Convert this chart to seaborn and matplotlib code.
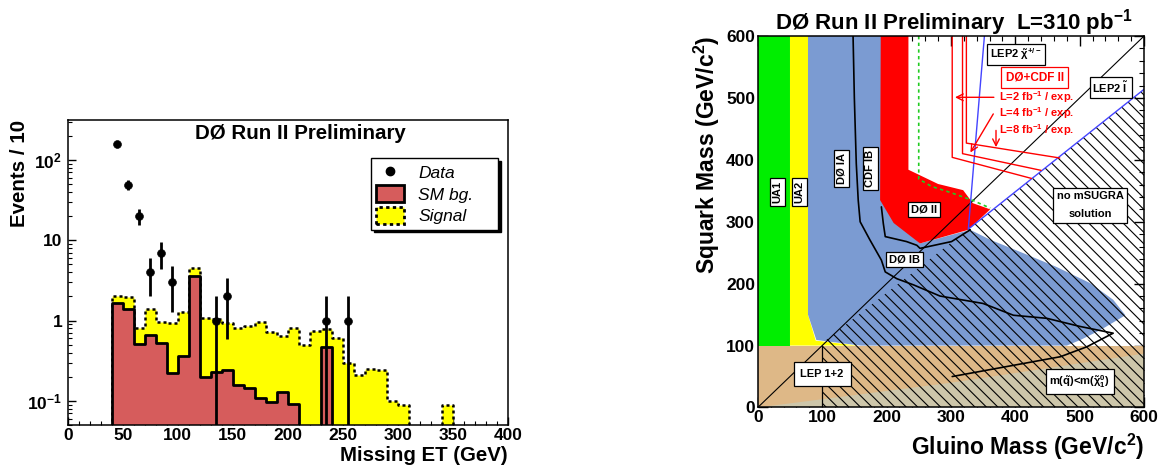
import numpy as np
import pandas as pd
import seaborn as sns
import matplotlib.pyplot as plt
from matplotlib.patches import Patch, Polygon
from matplotlib.lines import Line2D
from matplotlib.ticker import MultipleLocator, FixedLocator, FixedFormatter, LogLocator, NullFormatter

# ---- left panel: missing ET, 10 GeV bins starting at 40 GeV
bin_lo = np.arange(40, 350, 10)
sm_bg = [1.67, 1.38, 0.51, 0.66, 0.53, 0.22, 0.36, 3.63, 0.197, 0.23, 0.24, 0.158, 0.144, 0.108, 0.096, 0.128,
         0.091, 0, 0, 0.47, 0, 0, 0, 0, 0, 0, 0, 0, 0, 0, 0]
signal = [0.36, 0.57, 0.29, 0.72, 0.44, 0.71, 0.93, 0.85, 0.89, 0.81, 0.69, 0.64, 0.70, 0.84, 0.63, 0.52,
          0.71, 0.49, 0.75, 0.32, 0.60, 0.30, 0.21, 0.25, 0.24, 0.10, 0.088, 0, 0, 0, 0.088]
data_x = [45, 55, 65, 75, 85, 95, 135, 145, 235, 255]
data_n = [157, 49, 20, 4, 7, 3, 1, 2, 1, 1]

# ---- right panel: squark / gluino exclusion regions
lep_x, lep_y = [0, 600, 600, 0], [0, 0, 100, 100]
lsp_x, lsp_y = [0, 300, 600, 600], [0, 40, 87, 0]
ua1_x, ua1_y = [0, 50, 50, 0], [100, 100, 600, 600]
ua2_x, ua2_y = [50, 155, 90, 78, 78, 50], [100, 100, 108, 150, 600, 600]
d0i_x = [78, 200, 200, 252, 330, 361, 413, 464, 516, 552, 571, 532, 501, 480, 160, 91, 78]
d0i_y = [600, 600, 330, 265, 287, 271, 249, 227, 201, 174, 149, 125, 109, 100, 100, 109, 150]
d0ii_x = [191, 234, 234, 280, 319, 334, 361, 327, 252, 211, 190]
d0ii_y = [600, 600, 384, 361, 351, 330, 320, 287, 265, 298, 335]
nosol_x, nosol_y = [100, 100, 327, 600, 600], [0, 104, 288, 514, 0]
chargino_x, chargino_y = [352, 327, 600], [600, 288, 514]
slepton_x, slepton_y = [0, 600], [0, 600]
lep12_x, lep12_y = [100, 100], [0, 100]
d0ia_x = [148, 150, 153, 156, 159, 174, 192, 198, 216, 242, 283, 350, 397, 449, 500, 552, 511, 470, 302]
d0ia_y = [600, 500, 394, 335, 300, 271, 238, 219, 208, 198, 180, 168, 149, 144, 131, 120, 98, 82, 50]
cdfib_x = [192, 195, 198, 231, 247, 252, 301, 330]
cdfib_y = [324, 297, 276, 268, 262, 257, 268, 287]
d0ii_exp_x = [250, 250, 270, 300, 335, 361]
d0ii_exp_y = [600, 369, 357, 347, 334, 322]
reach2_x, reach2_y = [302, 302, 425], [600, 404, 370]
reach4_x, reach4_y = [318, 318, 440], [600, 410, 383]
reach8_x, reach8_y = [324, 324, 469], [600, 427, 403]

sns.set_style("ticks")
plt.rcParams['font.family'] = ['Liberation Sans', 'DejaVu Sans']
plt.rcParams['font.weight'] = 'bold'
plt.rcParams['axes.labelweight'] = 'bold'
plt.rcParams['mathtext.default'] = 'regular'
plt.rcParams['axes.edgecolor'] = 'black'
plt.rcParams['axes.labelcolor'] = 'black'
plt.rcParams['text.color'] = 'black'
plt.rcParams['xtick.color'] = 'black'
plt.rcParams['ytick.color'] = 'black'

fig = plt.figure(figsize=(11.64, 4.70), dpi=100)
ax1 = fig.add_axes([0.0582, 0.0957, 0.3783, 0.649])
ax2 = fig.add_axes([0.651, 0.133, 0.3319, 0.7904])

# left: stacked histogram (signal on top of SM background)
edges = list(range(0, 410, 10))
centers = bin_lo + 5
total_df = pd.DataFrame({'met': np.concatenate([centers, centers]),
                         'w': np.concatenate([sm_bg, signal])})
bg_df = pd.DataFrame({'met': centers, 'w': sm_bg})
ax1.set_yscale('log')
sns.histplot(data=total_df, x='met', weights='w', bins=edges,
             element='step', fill=True, color='#ffff00', alpha=1, edgecolor='black',
             linestyle=(0, (1.2, 1.2)), linewidth=1.8, ax=ax1)
sns.histplot(data=bg_df, x='met', weights='w', bins=edges, element='step', fill=True, color='#d65c5c', alpha=1,
             edgecolor='black', linewidth=2, ax=ax1)
ax1.errorbar(data_x, data_n, yerr=np.sqrt(data_n), fmt='none', ecolor='black', elinewidth=2, capsize=0, zorder=4)
sns.scatterplot(x=data_x, y=data_n, color='black', s=32, edgecolor='black', zorder=5, ax=ax1, legend=False)

ax1.set_xlim(0, 400)
ax1.set_ylim(0.05, 315)
ax1.xaxis.set_major_locator(MultipleLocator(50))
ax1.xaxis.set_minor_locator(MultipleLocator(10))
ax1.yaxis.set_major_locator(FixedLocator([0.1, 1, 10, 100]))
ax1.yaxis.set_major_formatter(FixedFormatter(['$10^{-1}$', '1', '10', '$10^{2}$']))
ax1.yaxis.set_minor_locator(LogLocator(subs=np.arange(2, 10)))
ax1.yaxis.set_minor_formatter(NullFormatter())
ax1.tick_params(which='both', direction='in', labelsize=12.5)
ax1.tick_params(which='major', length=6, width=1)
ax1.tick_params(which='minor', length=3, width=0.8)
ax1.tick_params(axis='x', pad=2)
ax1.tick_params(axis='y', pad=4)
ax1.set_xlabel('Missing ET (GeV)', fontsize=14.7, fontweight='bold', loc='right')
ax1.xaxis.set_label_coords(1.0, -0.07)
ax1.set_ylabel('Events / 10', fontsize=14.8, fontweight='bold', loc='top')
ax1.yaxis.set_label_coords(-0.088, 1.0)
ax1.text(0.528, 0.957, 'DØ Run II Preliminary', transform=ax1.transAxes, ha='center', va='center',
         fontsize=14.8, fontweight='bold')

handles = [Line2D([], [], marker='o', color='black', ls='none', ms=6),
           Patch(facecolor='#d65c5c', edgecolor='black', linewidth=2),
           Patch(facecolor='#ffff00', edgecolor='black', linestyle=(0, (1.2, 1.2)), linewidth=2)]
ax1.legend(handles, ['Data', 'SM bg.', 'Signal'], loc='upper left', bbox_to_anchor=(0.689, 0.875, 0.288, 0.0),
           mode='expand', borderaxespad=0, prop={'style': 'italic', 'weight': 'normal', 'size': 12.5},
           fancybox=False, edgecolor='black', framealpha=1, handlelength=1.6, handleheight=1.15,
           labelspacing=0.25, borderpad=0.3,
           shadow={'facecolor': 'black', 'edgecolor': 'black', 'alpha': 1})

# right: exclusion plane
def region(xs, ys, color):
    ax2.add_patch(Polygon(np.column_stack([xs, ys]), closed=True, facecolor=color, edgecolor='none'))

region(lep_x, lep_y, '#deb887')
region(lsp_x, lsp_y, '#cdc6aa')
region(ua1_x, ua1_y, '#00ee00')
region(ua2_x, ua2_y, '#ffff00')
region(d0i_x, d0i_y, '#7b9bd2')
region(d0ii_x, d0ii_y, '#ff0000')

hatch_patch = Polygon(np.column_stack([nosol_x, nosol_y]), closed=True, facecolor='none', edgecolor='none')
ax2.add_patch(hatch_patch)
offs = np.arange(0, 1300, 18.5)
hx = np.column_stack([np.zeros_like(offs), np.full_like(offs, 700), np.full_like(offs, np.nan)]).ravel()
hy = np.column_stack([offs, offs - 1.04 * 700, np.full_like(offs, np.nan)]).ravel()
hl, = ax2.plot(hx, hy, color='black', lw=0.8)
hl.set_clip_path(hatch_patch)

ax2.plot(slepton_x, slepton_y, color='black', lw=0.8)
ax2.plot(lep12_x, lep12_y, color='black', lw=0.9)
ax2.plot(chargino_x, chargino_y, color='#4444ff', lw=1.0)
ax2.plot(d0ia_x, d0ia_y, color='black', lw=1.2)
ax2.plot(cdfib_x, cdfib_y, color='black', lw=1.2)
ax2.plot(d0ii_exp_x, d0ii_exp_y, color='#22cc22', lw=1.2, ls=(0, (2, 2)))
for rx, ry in [(reach2_x, reach2_y), (reach4_x, reach4_y), (reach8_x, reach8_y)]:
    ax2.plot(rx, ry, color='red', lw=1.0)

arrow = dict(arrowstyle='->', color='red', lw=1.0, mutation_scale=12)
ax2.annotate('', xy=(302, 501), xytext=(371, 501), arrowprops=arrow)
ax2.annotate('', xy=(328, 408), xytext=(368, 478), arrowprops=arrow)
ax2.annotate('', xy=(370, 416), xytext=(370, 452), arrowprops=arrow)
for yy, lbl in [(501, 'L=2 fb$^{-1}$ / exp.'), (475, 'L=4 fb$^{-1}$ / exp.'), (448, 'L=8 fb$^{-1}$ / exp.')]:
    ax2.text(375, yy, lbl, color='red', fontsize=8, fontweight='bold', ha='left', va='center')

box = dict(boxstyle='square,pad=0.25', facecolor='white', edgecolor='black', lw=0.9)
labels = [((30.5, 348), 'UA1', 90), ((64.5, 348), 'UA2', 90), ((130, 386), 'DØ IA', 90),
          ((175, 386), 'CDF IB', 90), ((258, 320), 'DØ II', 0), ((228, 239), 'DØ IB', 0),
          ((548, 517), r'LEP2 $\tilde{l}$', 0), ((401, 570), r'LEP2 $\tilde{\chi}^{+/-}$', 0)]
for (lx, ly), txt, rot in labels:
    ax2.text(lx, ly, txt, fontsize=8, fontweight='bold', rotation=rot, ha='center', va='center',
             bbox=box, zorder=6)
ax2.text(100, 54, 'LEP 1+2', fontsize=8, fontweight='bold', ha='center', va='center', zorder=6,
         bbox=dict(boxstyle='square,pad=0.6', facecolor='white', edgecolor='black', lw=0.9))
ax2.text(500, 42, r'm($\tilde{q}$)<m($\tilde{\chi}_1^0$)', fontsize=8, fontweight='bold', ha='center',
         va='center', zorder=6,
         bbox=dict(boxstyle='square,pad=0.35', facecolor='white', edgecolor='black', lw=0.9))
ax2.text(516, 327, 'no mSUGRA\nsolution', fontsize=8, fontweight='bold', ha='center', va='center',
         linespacing=1.9, zorder=6,
         bbox=dict(boxstyle='square,pad=0.35', facecolor='white', edgecolor='black', lw=0.9))
ax2.text(430, 533, 'DØ+CDF II', fontsize=8.5, fontweight='bold', color='red', ha='center', va='center', zorder=6,
         bbox=dict(boxstyle='square,pad=0.4', facecolor='white', edgecolor='red', lw=0.9))

ax2.set_xlim(0, 600)
ax2.set_ylim(0, 600)
ax2.xaxis.set_major_locator(MultipleLocator(100))
ax2.xaxis.set_minor_locator(MultipleLocator(20))
ax2.yaxis.set_major_locator(MultipleLocator(100))
ax2.yaxis.set_minor_locator(MultipleLocator(20))
ax2.tick_params(which='both', direction='in', top=True, right=True, labelsize=12.5)
ax2.tick_params(which='major', length=7, width=1)
ax2.tick_params(which='minor', length=3.5, width=0.8)
ax2.tick_params(axis='x', pad=2)
ax2.tick_params(axis='y', pad=2)
ax2.set_xlabel('Gluino Mass (GeV/c$^{2}$)', fontsize=16.5, fontweight='bold', loc='right')
ax2.xaxis.set_label_coords(1.0, -0.066)
ax2.set_ylabel('Squark Mass (GeV/c$^{2}$)', fontsize=16.5, fontweight='bold', loc='top')
ax2.yaxis.set_label_coords(-0.092, 1.0)
ax2.text(0.508, 1.037, 'DØ Run II Preliminary  L=310 pb$^{-1}$', transform=ax2.transAxes,
         ha='center', va='center', fontsize=16, fontweight='bold')

for ax in (ax1, ax2):
    for sp in ax.spines.values():
        sp.set_visible(True)
        sp.set_linewidth(1.1)
        sp.set_zorder(10)
    for lbl in ax.get_xticklabels() + ax.get_yticklabels():
        lbl.set_fontweight('bold')

fig.savefig('out.png', dpi=100)
